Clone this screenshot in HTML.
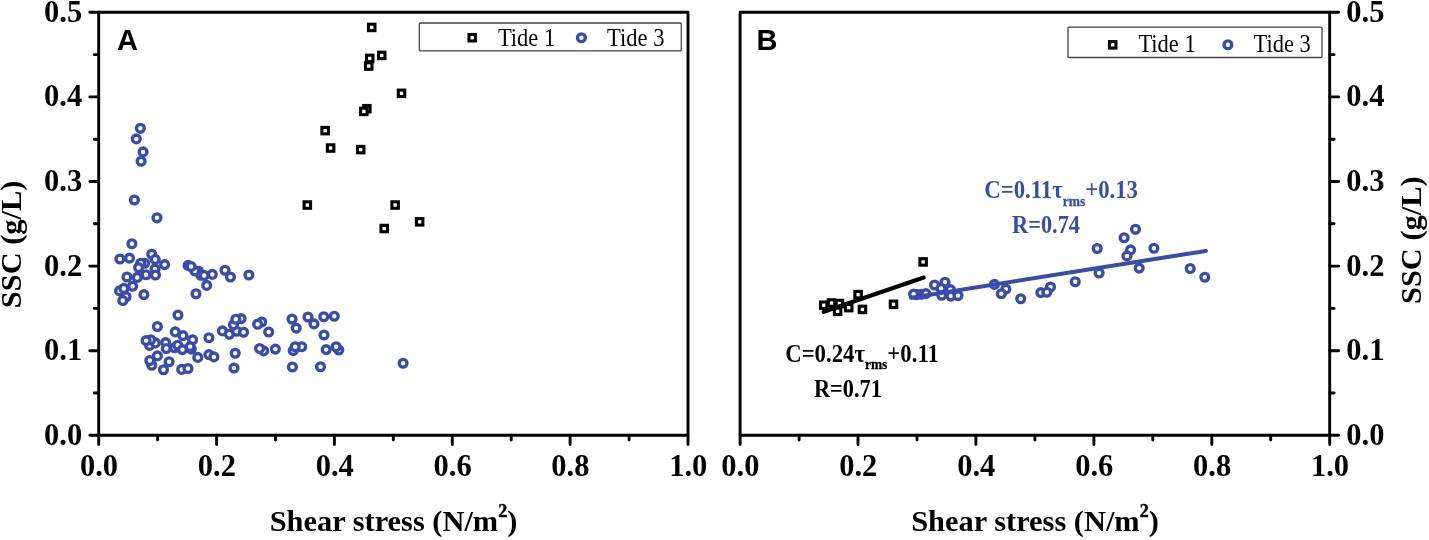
<!DOCTYPE html>
<html><head><meta charset="utf-8"><title>SSC vs shear stress</title>
<style>
html,body{margin:0;padding:0;background:#fff;}
svg{display:block;}
text{font-family:"Liberation Serif",serif;}
.tk{font-weight:bold;font-size:31.6px;fill:#000;}
.ti{font-weight:bold;font-size:30.4px;fill:#000;}
.lg{font-size:25px;fill:#000;}
.pn{font-family:"Liberation Sans",sans-serif;font-weight:bold;font-size:29px;fill:#000;}
.eq{font-weight:bold;font-size:25.3px;}
.sub{font-size:15px;}
</style></head><body>
<svg width="1429" height="540" viewBox="0 0 1429 540">
<rect width="1429" height="540" fill="#fff"/>
<rect x="98.7" y="12.3" width="589.3" height="423.0" fill="none" stroke="#000" stroke-width="2.9" stroke-linejoin="round"/>
<path d="M98.7 435.3v9.3M157.6 435.3v4.8M216.6 435.3v9.3M275.5 435.3v4.8M334.4 435.3v9.3M393.3 435.3v4.8M452.3 435.3v9.3M511.2 435.3v4.8M570.1 435.3v9.3M629.1 435.3v4.8M688.0 435.3v9.3M98.7 435.3h-8.9M98.7 393.0h-4.4M98.7 350.7h-8.9M98.7 308.4h-4.4M98.7 266.1h-8.9M98.7 223.8h-4.4M98.7 181.5h-8.9M98.7 139.2h-4.4M98.7 96.9h-8.9M98.7 54.6h-4.4M98.7 12.3h-8.9" stroke="#000" stroke-width="2.9" fill="none" stroke-linecap="round"/>
<text class="tk" transform="translate(99.0 476) scale(0.965 1)" text-anchor="middle">0.0</text>
<text class="tk" transform="translate(216.9 476) scale(0.965 1)" text-anchor="middle">0.2</text>
<text class="tk" transform="translate(334.7 476) scale(0.965 1)" text-anchor="middle">0.4</text>
<text class="tk" transform="translate(452.6 476) scale(0.965 1)" text-anchor="middle">0.6</text>
<text class="tk" transform="translate(570.4 476) scale(0.965 1)" text-anchor="middle">0.8</text>
<text class="tk" transform="translate(688.3 476) scale(0.965 1)" text-anchor="middle">1.0</text>
<text class="tk" transform="translate(82.2 444.7) scale(0.965 1)" text-anchor="end">0.0</text>
<text class="tk" transform="translate(82.2 360.1) scale(0.965 1)" text-anchor="end">0.1</text>
<text class="tk" transform="translate(82.2 275.5) scale(0.965 1)" text-anchor="end">0.2</text>
<text class="tk" transform="translate(82.2 190.9) scale(0.965 1)" text-anchor="end">0.3</text>
<text class="tk" transform="translate(82.2 106.3) scale(0.965 1)" text-anchor="end">0.4</text>
<text class="tk" transform="translate(82.2 21.7) scale(0.965 1)" text-anchor="end">0.5</text>
<rect x="740.1" y="12.3" width="589.6" height="423.0" fill="none" stroke="#000" stroke-width="2.9" stroke-linejoin="round"/>
<path d="M740.1 435.3v9.3M799.1 435.3v4.8M858.0 435.3v9.3M917.0 435.3v4.8M975.9 435.3v9.3M1034.9 435.3v4.8M1093.9 435.3v9.3M1152.8 435.3v4.8M1211.8 435.3v9.3M1270.7 435.3v4.8M1329.7 435.3v9.3M1329.7 435.3h8.9M1329.7 393.0h4.4M1329.7 350.7h8.9M1329.7 308.4h4.4M1329.7 266.1h8.9M1329.7 223.8h4.4M1329.7 181.5h8.9M1329.7 139.2h4.4M1329.7 96.9h8.9M1329.7 54.6h4.4M1329.7 12.3h8.9" stroke="#000" stroke-width="2.9" fill="none" stroke-linecap="round"/>
<text class="tk" transform="translate(740.4 476) scale(0.965 1)" text-anchor="middle">0.0</text>
<text class="tk" transform="translate(858.3 476) scale(0.965 1)" text-anchor="middle">0.2</text>
<text class="tk" transform="translate(976.2 476) scale(0.965 1)" text-anchor="middle">0.4</text>
<text class="tk" transform="translate(1094.2 476) scale(0.965 1)" text-anchor="middle">0.6</text>
<text class="tk" transform="translate(1212.1 476) scale(0.965 1)" text-anchor="middle">0.8</text>
<text class="tk" transform="translate(1330.0 476) scale(0.965 1)" text-anchor="middle">1.0</text>
<text class="tk" transform="translate(1346.3 444.7) scale(0.965 1)" text-anchor="start">0.0</text>
<text class="tk" transform="translate(1346.3 360.1) scale(0.965 1)" text-anchor="start">0.1</text>
<text class="tk" transform="translate(1346.3 275.5) scale(0.965 1)" text-anchor="start">0.2</text>
<text class="tk" transform="translate(1346.3 190.9) scale(0.965 1)" text-anchor="start">0.3</text>
<text class="tk" transform="translate(1346.3 106.3) scale(0.965 1)" text-anchor="start">0.4</text>
<text class="tk" transform="translate(1346.3 21.7) scale(0.965 1)" text-anchor="start">0.5</text>
<text class="ti" x="393.5" y="530.5" text-anchor="middle">Shear stress (N/m<tspan font-size="18" font-weight="bold" stroke="#000" stroke-width="0.5" dy="-14">2</tspan><tspan dy="14">)</tspan></text>
<text class="ti" x="1035" y="530.5" text-anchor="middle">Shear stress (N/m<tspan font-size="18" font-weight="bold" stroke="#000" stroke-width="0.5" dy="-14">2</tspan><tspan dy="14">)</tspan></text>
<text class="ti" transform="translate(21.4 244.4) rotate(-90)" text-anchor="middle">SSC (g/L)</text>
<text class="ti" transform="translate(1420.6 240.2) rotate(-90)" text-anchor="middle">SSC (g/L)</text>
<text class="pn" x="117.0" y="50">A</text>
<text class="pn" x="756.6" y="50">B</text>
<rect x="419.3" y="23" width="262" height="27.9" fill="#fff" stroke="#444" stroke-width="1.3" rx="1"/>
<rect x="469.0" y="34.5" width="6.45" height="6.45" fill="#fff" stroke="#000" stroke-width="3.1"/>
<text class="lg" transform="translate(497.9 46.2) scale(0.9 1)">Tide 1</text>
<circle cx="581.4" cy="37.8" r="3.9" fill="#fff" stroke="#394cab" stroke-width="3.35"/>
<text class="lg" transform="translate(607.1 46.2) scale(0.9 1)">Tide 3</text>
<rect x="1068" y="27.1" width="254" height="30.4" fill="#fff" stroke="#444" stroke-width="1.3" rx="1"/>
<rect x="1109.5" y="41.6" width="6.45" height="6.45" fill="#fff" stroke="#000" stroke-width="3.1"/>
<text class="lg" transform="translate(1138.4 52.3) scale(0.9 1)">Tide 1</text>
<circle cx="1227.9" cy="44.8" r="3.9" fill="#fff" stroke="#394cab" stroke-width="3.35"/>
<text class="lg" transform="translate(1253.5 52.3) scale(0.9 1)">Tide 3</text>
<circle cx="140.4" cy="128.3" r="3.9" fill="#fff" stroke="#394cab" stroke-width="3.35"/>
<circle cx="136.3" cy="138.9" r="3.9" fill="#fff" stroke="#394cab" stroke-width="3.35"/>
<circle cx="143.1" cy="151.9" r="3.9" fill="#fff" stroke="#394cab" stroke-width="3.35"/>
<circle cx="141.1" cy="161.2" r="3.9" fill="#fff" stroke="#394cab" stroke-width="3.35"/>
<circle cx="134.4" cy="200.0" r="3.9" fill="#fff" stroke="#394cab" stroke-width="3.35"/>
<circle cx="157.0" cy="217.8" r="3.9" fill="#fff" stroke="#394cab" stroke-width="3.35"/>
<circle cx="131.9" cy="243.7" r="3.9" fill="#fff" stroke="#394cab" stroke-width="3.35"/>
<circle cx="119.9" cy="259.0" r="3.9" fill="#fff" stroke="#394cab" stroke-width="3.35"/>
<circle cx="129.5" cy="258.1" r="3.9" fill="#fff" stroke="#394cab" stroke-width="3.35"/>
<circle cx="151.7" cy="254.3" r="3.9" fill="#fff" stroke="#394cab" stroke-width="3.35"/>
<circle cx="155.2" cy="259.4" r="3.9" fill="#fff" stroke="#394cab" stroke-width="3.35"/>
<circle cx="144.6" cy="263.2" r="3.9" fill="#fff" stroke="#394cab" stroke-width="3.35"/>
<circle cx="140.7" cy="263.2" r="3.9" fill="#fff" stroke="#394cab" stroke-width="3.35"/>
<circle cx="164.6" cy="264.6" r="3.9" fill="#fff" stroke="#394cab" stroke-width="3.35"/>
<circle cx="138.6" cy="267.6" r="3.9" fill="#fff" stroke="#394cab" stroke-width="3.35"/>
<circle cx="155.0" cy="268.9" r="3.9" fill="#fff" stroke="#394cab" stroke-width="3.35"/>
<circle cx="146.0" cy="274.7" r="3.9" fill="#fff" stroke="#394cab" stroke-width="3.35"/>
<circle cx="155.5" cy="275.0" r="3.9" fill="#fff" stroke="#394cab" stroke-width="3.35"/>
<circle cx="127.0" cy="277.0" r="3.9" fill="#fff" stroke="#394cab" stroke-width="3.35"/>
<circle cx="137.3" cy="277.4" r="3.9" fill="#fff" stroke="#394cab" stroke-width="3.35"/>
<circle cx="132.6" cy="286.2" r="3.9" fill="#fff" stroke="#394cab" stroke-width="3.35"/>
<circle cx="119.6" cy="290.9" r="3.9" fill="#fff" stroke="#394cab" stroke-width="3.35"/>
<circle cx="123.8" cy="288.4" r="3.9" fill="#fff" stroke="#394cab" stroke-width="3.35"/>
<circle cx="143.9" cy="294.6" r="3.9" fill="#fff" stroke="#394cab" stroke-width="3.35"/>
<circle cx="126.1" cy="296.8" r="3.9" fill="#fff" stroke="#394cab" stroke-width="3.35"/>
<circle cx="122.8" cy="300.5" r="3.9" fill="#fff" stroke="#394cab" stroke-width="3.35"/>
<circle cx="188.1" cy="265.4" r="3.9" fill="#fff" stroke="#394cab" stroke-width="3.35"/>
<circle cx="198.5" cy="271.2" r="3.9" fill="#fff" stroke="#394cab" stroke-width="3.35"/>
<circle cx="200.8" cy="275.2" r="3.9" fill="#fff" stroke="#394cab" stroke-width="3.35"/>
<circle cx="194.8" cy="270.9" r="3.9" fill="#fff" stroke="#394cab" stroke-width="3.35"/>
<circle cx="191.1" cy="266.5" r="3.9" fill="#fff" stroke="#394cab" stroke-width="3.35"/>
<circle cx="204.2" cy="275.4" r="3.9" fill="#fff" stroke="#394cab" stroke-width="3.35"/>
<circle cx="212.3" cy="274.4" r="3.9" fill="#fff" stroke="#394cab" stroke-width="3.35"/>
<circle cx="206.7" cy="285.4" r="3.9" fill="#fff" stroke="#394cab" stroke-width="3.35"/>
<circle cx="196.0" cy="293.7" r="3.9" fill="#fff" stroke="#394cab" stroke-width="3.35"/>
<circle cx="225.0" cy="270.2" r="3.9" fill="#fff" stroke="#394cab" stroke-width="3.35"/>
<circle cx="230.4" cy="277.0" r="3.9" fill="#fff" stroke="#394cab" stroke-width="3.35"/>
<circle cx="248.9" cy="275.0" r="3.9" fill="#fff" stroke="#394cab" stroke-width="3.35"/>
<circle cx="178.0" cy="315.0" r="3.9" fill="#fff" stroke="#394cab" stroke-width="3.35"/>
<circle cx="157.4" cy="326.5" r="3.9" fill="#fff" stroke="#394cab" stroke-width="3.35"/>
<circle cx="175.2" cy="331.9" r="3.9" fill="#fff" stroke="#394cab" stroke-width="3.35"/>
<circle cx="183.0" cy="335.6" r="3.9" fill="#fff" stroke="#394cab" stroke-width="3.35"/>
<circle cx="192.6" cy="339.8" r="3.9" fill="#fff" stroke="#394cab" stroke-width="3.35"/>
<circle cx="208.9" cy="337.8" r="3.9" fill="#fff" stroke="#394cab" stroke-width="3.35"/>
<circle cx="149.6" cy="345.4" r="3.9" fill="#fff" stroke="#394cab" stroke-width="3.35"/>
<circle cx="155.4" cy="342.9" r="3.9" fill="#fff" stroke="#394cab" stroke-width="3.35"/>
<circle cx="150.6" cy="339.8" r="3.9" fill="#fff" stroke="#394cab" stroke-width="3.35"/>
<circle cx="146.1" cy="340.6" r="3.9" fill="#fff" stroke="#394cab" stroke-width="3.35"/>
<circle cx="165.7" cy="342.6" r="3.9" fill="#fff" stroke="#394cab" stroke-width="3.35"/>
<circle cx="166.3" cy="348.5" r="3.9" fill="#fff" stroke="#394cab" stroke-width="3.35"/>
<circle cx="174.6" cy="347.8" r="3.9" fill="#fff" stroke="#394cab" stroke-width="3.35"/>
<circle cx="177.7" cy="345.2" r="3.9" fill="#fff" stroke="#394cab" stroke-width="3.35"/>
<circle cx="182.4" cy="349.6" r="3.9" fill="#fff" stroke="#394cab" stroke-width="3.35"/>
<circle cx="191.3" cy="349.1" r="3.9" fill="#fff" stroke="#394cab" stroke-width="3.35"/>
<circle cx="190.1" cy="346.6" r="3.9" fill="#fff" stroke="#394cab" stroke-width="3.35"/>
<circle cx="157.4" cy="355.9" r="3.9" fill="#fff" stroke="#394cab" stroke-width="3.35"/>
<circle cx="151.8" cy="365.3" r="3.9" fill="#fff" stroke="#394cab" stroke-width="3.35"/>
<circle cx="149.8" cy="360.5" r="3.9" fill="#fff" stroke="#394cab" stroke-width="3.35"/>
<circle cx="169.1" cy="361.7" r="3.9" fill="#fff" stroke="#394cab" stroke-width="3.35"/>
<circle cx="163.5" cy="369.8" r="3.9" fill="#fff" stroke="#394cab" stroke-width="3.35"/>
<circle cx="197.8" cy="357.4" r="3.9" fill="#fff" stroke="#394cab" stroke-width="3.35"/>
<circle cx="208.9" cy="354.6" r="3.9" fill="#fff" stroke="#394cab" stroke-width="3.35"/>
<circle cx="213.9" cy="356.9" r="3.9" fill="#fff" stroke="#394cab" stroke-width="3.35"/>
<circle cx="181.7" cy="369.4" r="3.9" fill="#fff" stroke="#394cab" stroke-width="3.35"/>
<circle cx="188.0" cy="368.5" r="3.9" fill="#fff" stroke="#394cab" stroke-width="3.35"/>
<circle cx="235.2" cy="353.2" r="3.9" fill="#fff" stroke="#394cab" stroke-width="3.35"/>
<circle cx="234.0" cy="368.0" r="3.9" fill="#fff" stroke="#394cab" stroke-width="3.35"/>
<circle cx="222.4" cy="330.9" r="3.9" fill="#fff" stroke="#394cab" stroke-width="3.35"/>
<circle cx="229.3" cy="334.3" r="3.9" fill="#fff" stroke="#394cab" stroke-width="3.35"/>
<circle cx="236.7" cy="331.2" r="3.9" fill="#fff" stroke="#394cab" stroke-width="3.35"/>
<circle cx="233.5" cy="324.8" r="3.9" fill="#fff" stroke="#394cab" stroke-width="3.35"/>
<circle cx="241.1" cy="318.6" r="3.9" fill="#fff" stroke="#394cab" stroke-width="3.35"/>
<circle cx="235.8" cy="319.3" r="3.9" fill="#fff" stroke="#394cab" stroke-width="3.35"/>
<circle cx="243.6" cy="332.2" r="3.9" fill="#fff" stroke="#394cab" stroke-width="3.35"/>
<circle cx="261.7" cy="322.0" r="3.9" fill="#fff" stroke="#394cab" stroke-width="3.35"/>
<circle cx="257.6" cy="324.2" r="3.9" fill="#fff" stroke="#394cab" stroke-width="3.35"/>
<circle cx="268.7" cy="332.0" r="3.9" fill="#fff" stroke="#394cab" stroke-width="3.35"/>
<circle cx="292.0" cy="319.0" r="3.9" fill="#fff" stroke="#394cab" stroke-width="3.35"/>
<circle cx="296.2" cy="328.1" r="3.9" fill="#fff" stroke="#394cab" stroke-width="3.35"/>
<circle cx="308.0" cy="317.0" r="3.9" fill="#fff" stroke="#394cab" stroke-width="3.35"/>
<circle cx="314.0" cy="323.9" r="3.9" fill="#fff" stroke="#394cab" stroke-width="3.35"/>
<circle cx="323.8" cy="316.7" r="3.9" fill="#fff" stroke="#394cab" stroke-width="3.35"/>
<circle cx="334.3" cy="316.3" r="3.9" fill="#fff" stroke="#394cab" stroke-width="3.35"/>
<circle cx="324.0" cy="335.0" r="3.9" fill="#fff" stroke="#394cab" stroke-width="3.35"/>
<circle cx="263.7" cy="350.9" r="3.9" fill="#fff" stroke="#394cab" stroke-width="3.35"/>
<circle cx="259.6" cy="348.5" r="3.9" fill="#fff" stroke="#394cab" stroke-width="3.35"/>
<circle cx="275.4" cy="349.1" r="3.9" fill="#fff" stroke="#394cab" stroke-width="3.35"/>
<circle cx="293.2" cy="350.6" r="3.9" fill="#fff" stroke="#394cab" stroke-width="3.35"/>
<circle cx="301.7" cy="346.8" r="3.9" fill="#fff" stroke="#394cab" stroke-width="3.35"/>
<circle cx="295.2" cy="346.8" r="3.9" fill="#fff" stroke="#394cab" stroke-width="3.35"/>
<circle cx="326.2" cy="349.6" r="3.9" fill="#fff" stroke="#394cab" stroke-width="3.35"/>
<circle cx="338.8" cy="350.0" r="3.9" fill="#fff" stroke="#394cab" stroke-width="3.35"/>
<circle cx="336.1" cy="346.8" r="3.9" fill="#fff" stroke="#394cab" stroke-width="3.35"/>
<circle cx="292.4" cy="367.0" r="3.9" fill="#fff" stroke="#394cab" stroke-width="3.35"/>
<circle cx="320.5" cy="366.7" r="3.9" fill="#fff" stroke="#394cab" stroke-width="3.35"/>
<circle cx="403.1" cy="363.3" r="3.9" fill="#fff" stroke="#394cab" stroke-width="3.35"/>
<rect x="368.5" y="24.2" width="6.45" height="6.45" fill="#fff" stroke="#000" stroke-width="3.1"/>
<rect x="378.5" y="52.2" width="6.45" height="6.45" fill="#fff" stroke="#000" stroke-width="3.1"/>
<rect x="366.5" y="55.2" width="6.45" height="6.45" fill="#fff" stroke="#000" stroke-width="3.1"/>
<rect x="365.5" y="62.8" width="6.45" height="6.45" fill="#fff" stroke="#000" stroke-width="3.1"/>
<rect x="398.3" y="90.1" width="6.45" height="6.45" fill="#fff" stroke="#000" stroke-width="3.1"/>
<rect x="363.6" y="105.5" width="6.45" height="6.45" fill="#fff" stroke="#000" stroke-width="3.1"/>
<rect x="360.6" y="108.2" width="6.45" height="6.45" fill="#fff" stroke="#000" stroke-width="3.1"/>
<rect x="321.9" y="127.4" width="6.45" height="6.45" fill="#fff" stroke="#000" stroke-width="3.1"/>
<rect x="327.4" y="144.8" width="6.45" height="6.45" fill="#fff" stroke="#000" stroke-width="3.1"/>
<rect x="357.5" y="146.4" width="6.45" height="6.45" fill="#fff" stroke="#000" stroke-width="3.1"/>
<rect x="304.1" y="201.8" width="6.45" height="6.45" fill="#fff" stroke="#000" stroke-width="3.1"/>
<rect x="391.9" y="201.8" width="6.45" height="6.45" fill="#fff" stroke="#000" stroke-width="3.1"/>
<rect x="416.4" y="218.6" width="6.45" height="6.45" fill="#fff" stroke="#000" stroke-width="3.1"/>
<rect x="381.0" y="225.3" width="6.45" height="6.45" fill="#fff" stroke="#000" stroke-width="3.1"/>
<circle cx="921.3" cy="294.3" r="3.9" fill="#fff" stroke="#394cab" stroke-width="3.35"/>
<circle cx="916.8" cy="294.6" r="3.9" fill="#fff" stroke="#394cab" stroke-width="3.35"/>
<circle cx="913.6" cy="294.1" r="3.9" fill="#fff" stroke="#394cab" stroke-width="3.35"/>
<circle cx="925.9" cy="293.6" r="3.9" fill="#fff" stroke="#394cab" stroke-width="3.35"/>
<circle cx="934.6" cy="285.0" r="3.9" fill="#fff" stroke="#394cab" stroke-width="3.35"/>
<circle cx="945.0" cy="282.2" r="3.9" fill="#fff" stroke="#394cab" stroke-width="3.35"/>
<circle cx="941.1" cy="288.5" r="3.9" fill="#fff" stroke="#394cab" stroke-width="3.35"/>
<circle cx="950.4" cy="289.6" r="3.9" fill="#fff" stroke="#394cab" stroke-width="3.35"/>
<circle cx="941.7" cy="295.2" r="3.9" fill="#fff" stroke="#394cab" stroke-width="3.35"/>
<circle cx="950.9" cy="296.1" r="3.9" fill="#fff" stroke="#394cab" stroke-width="3.35"/>
<circle cx="958.0" cy="295.6" r="3.9" fill="#fff" stroke="#394cab" stroke-width="3.35"/>
<circle cx="994.4" cy="284.4" r="3.9" fill="#fff" stroke="#394cab" stroke-width="3.35"/>
<circle cx="1005.9" cy="289.1" r="3.9" fill="#fff" stroke="#394cab" stroke-width="3.35"/>
<circle cx="1001.3" cy="293.7" r="3.9" fill="#fff" stroke="#394cab" stroke-width="3.35"/>
<circle cx="1020.7" cy="298.7" r="3.9" fill="#fff" stroke="#394cab" stroke-width="3.35"/>
<circle cx="1040.8" cy="292.6" r="3.9" fill="#fff" stroke="#394cab" stroke-width="3.35"/>
<circle cx="1050.5" cy="287.0" r="3.9" fill="#fff" stroke="#394cab" stroke-width="3.35"/>
<circle cx="1046.8" cy="292.3" r="3.9" fill="#fff" stroke="#394cab" stroke-width="3.35"/>
<circle cx="1075.2" cy="281.7" r="3.9" fill="#fff" stroke="#394cab" stroke-width="3.35"/>
<circle cx="1099.1" cy="273.0" r="3.9" fill="#fff" stroke="#394cab" stroke-width="3.35"/>
<circle cx="1097.2" cy="248.5" r="3.9" fill="#fff" stroke="#394cab" stroke-width="3.35"/>
<circle cx="1124.1" cy="237.7" r="3.9" fill="#fff" stroke="#394cab" stroke-width="3.35"/>
<circle cx="1135.5" cy="229.3" r="3.9" fill="#fff" stroke="#394cab" stroke-width="3.35"/>
<circle cx="1130.6" cy="249.9" r="3.9" fill="#fff" stroke="#394cab" stroke-width="3.35"/>
<circle cx="1127.0" cy="255.9" r="3.9" fill="#fff" stroke="#394cab" stroke-width="3.35"/>
<circle cx="1139.2" cy="268.1" r="3.9" fill="#fff" stroke="#394cab" stroke-width="3.35"/>
<circle cx="1153.9" cy="248.2" r="3.9" fill="#fff" stroke="#394cab" stroke-width="3.35"/>
<circle cx="1190.2" cy="268.5" r="3.9" fill="#fff" stroke="#394cab" stroke-width="3.35"/>
<circle cx="1204.8" cy="277.2" r="3.9" fill="#fff" stroke="#394cab" stroke-width="3.35"/>
<rect x="919.9" y="258.7" width="6.45" height="6.45" fill="#fff" stroke="#000" stroke-width="3.1"/>
<rect x="854.9" y="291.4" width="6.45" height="6.45" fill="#fff" stroke="#000" stroke-width="3.1"/>
<rect x="820.5" y="302.0" width="6.45" height="6.45" fill="#fff" stroke="#000" stroke-width="3.1"/>
<rect x="828.3" y="299.8" width="6.45" height="6.45" fill="#fff" stroke="#000" stroke-width="3.1"/>
<rect x="836.2" y="300.3" width="6.45" height="6.45" fill="#fff" stroke="#000" stroke-width="3.1"/>
<rect x="834.4" y="308.1" width="6.45" height="6.45" fill="#fff" stroke="#000" stroke-width="3.1"/>
<rect x="845.5" y="304.4" width="6.45" height="6.45" fill="#fff" stroke="#000" stroke-width="3.1"/>
<rect x="859.2" y="306.2" width="6.45" height="6.45" fill="#fff" stroke="#000" stroke-width="3.1"/>
<rect x="890.3" y="301.1" width="6.45" height="6.45" fill="#fff" stroke="#000" stroke-width="3.1"/>
<line x1="823.7" y1="311.8" x2="923.7" y2="277.6" stroke="#000" stroke-width="4.2" stroke-linecap="round"/>
<line x1="911" y1="297.7" x2="1205.9" y2="250.9" stroke="#394cab" stroke-width="4.1" stroke-linecap="round"/>
<text class="eq" fill="#394cab" transform="translate(984.3 198.4) scale(0.9 1)">C=0.11τ<tspan class="sub" stroke="#394cab" stroke-width="0.3" dy="7.5">rms</tspan><tspan dy="-7.5">+0.13</tspan></text>
<text class="eq" fill="#394cab" style="font-size:24.4px" transform="translate(1012.1 232.8) scale(0.915 1)">R=0.74</text>
<text class="eq" fill="#000" transform="translate(785.2 361.6) scale(0.9 1)">C=0.24τ<tspan class="sub" stroke="#000" stroke-width="0.3" dy="7.5">rms</tspan><tspan dy="-7.5">+0.11</tspan></text>
<text class="eq" fill="#000" style="font-size:24.4px" transform="translate(814.0 396.8) scale(0.915 1)">R=0.71</text>
</svg></body></html>
